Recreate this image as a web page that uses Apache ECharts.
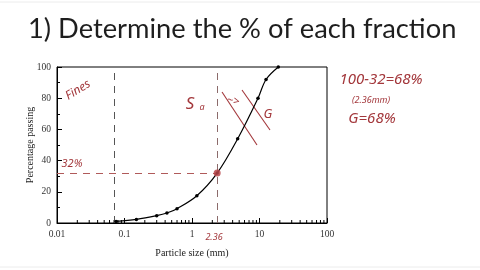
<!DOCTYPE html>
<html>
<head>
<meta charset="utf-8">
<script src="https://cdn.jsdelivr.net/npm/echarts@6/dist/echarts.min.js"></script>
<style>
  html, body { margin: 0; padding: 0; background: #fff; }
  #chart { width: 480px; height: 270px; }
</style>
</head>
<body>
<div id="chart"></div>
<script>
// Sieve analysis: particle size (mm) vs. percentage passing
const sizes   = [0.075, 0.15, 0.3, 0.425, 0.6, 1.18, 2.36, 4.75, 9.5, 12.5, 19];
const passing = [1, 2.3, 4.7, 6.4, 9.2, 17.5, 32, 54, 80, 92, 100];

const fineLimit = 0.075;     // fines / sand boundary (mm)
const sandLimit = 2.36;      // sand / gravel split used here (mm)
const passAtSand = 32;       // % passing at 2.36 mm

const xTickLabels = ['0.01', '0.1', '1', '10', '100'];
const yTicks = [0, 20, 40, 60, 80, 100];
// minor log ticks 2..9 in each decade
const minorX = [];
[0.01, 0.1, 1, 10].forEach(d => { for (let k = 2; k <= 9; k++) minorX.push(+(d * k).toPrecision(3)); });

const serif = 'Liberation Serif';
const ink = '#a3373b';
const hand = 'Noto Sans';

const chart = echarts.init(document.getElementById('chart'), null, { renderer: 'canvas' });

chart.setOption({
  backgroundColor: '#fff',
  animation: false,
  title: {
    text: '1) Determine the % of each fraction',
    left: 23, top: 11,
    textStyle: { fontFamily: 'Lato', fontWeight: 'normal', fontSize: 27.3, color: '#1e1e1e' }
  },
  grid: { left: 57, right: 153, top: 67, bottom: 47, show: true, borderColor: '#000', borderWidth: 1, backgroundColor: 'transparent' },
  xAxis: {
    type: 'log', logBase: 10, min: 0.01, max: 100,
    name: 'Particle size (mm)', nameLocation: 'middle', nameGap: 25,
    nameTextStyle: { fontFamily: serif, fontSize: 10, color: '#222' },
    axisLine: { lineStyle: { color: '#000', width: 1 } },
    axisTick: { inside: true, length: 5, lineStyle: { color: '#000' } },
    axisLabel: {
      fontFamily: serif, fontSize: 9.5, color: '#333', margin: 6,
      formatter: v => { const s = xTickLabels.find(t => Math.abs(+t - v) / v < 1e-6); return s || ''; }
    },
    splitLine: { show: false }
  },
  yAxis: {
    type: 'value', min: 0, max: 100, interval: 20,
    name: 'Percentage passing', nameLocation: 'middle', nameGap: 22, nameMoveOverlap: false,
    nameTextStyle: { fontFamily: serif, fontSize: 10, color: '#222' },
    axisLine: { show: true, lineStyle: { color: '#000', width: 1 } },
    axisTick: { show: true, inside: true, length: 5, lineStyle: { color: '#000' } },
    minorTick: { show: true, splitNumber: 2, length: 3, lineStyle: { color: '#000' } },
    axisLabel: { fontFamily: serif, fontSize: 9.5, color: '#333', margin: 6,
      formatter: v => yTicks.includes(v) ? String(v) : '' },
    splitLine: { show: false }
  },
  series: [
    {
      type: 'line',
      data: sizes.map((s, i) => [s, passing[i]]),
      smooth: 0.35,
      symbol: 'circle', symbolSize: 3.5,
      lineStyle: { color: '#000', width: 1.2 },
      itemStyle: { color: '#000' },
      z: 5,
      markLine: {
        silent: true, symbol: 'none', label: { show: false },
        data: [
          { xAxis: fineLimit, lineStyle: { color: '#555', type: [7, 6], width: 1 } },
          { xAxis: sandLimit, lineStyle: { color: '#8c6b6b', type: [7, 6], width: 1 } },
          [
            { coord: [0.01, passAtSand], lineStyle: { color: '#b05a5a', type: [7, 6], width: 1 } },
            { coord: [sandLimit, passAtSand] }
          ]
        ]
      }
    },
    {
      // highlighted reading at 2.36 mm
      type: 'scatter',
      data: [[sandLimit, passAtSand]],
      symbol: 'circle', symbolSize: 7,
      itemStyle: { color: '#b8474a', opacity: 0.85 },
      z: 6
    },
    {
      // log-spaced minor ticks along the bottom axis
      type: 'custom',
      data: minorX.map(v => [v, 0]),
      silent: true,
      renderItem: (params, api) => {
        const p = api.coord([api.value(0), 0]);
        return { type: 'line', shape: { x1: p[0], y1: p[1], x2: p[0], y2: p[1] - 3 }, style: { stroke: '#000', lineWidth: 1 } };
      },
      z: 4
    }
  ],
  graphic: [
    { type: 'line', shape: { x1: 0, y1: 2, x2: 480, y2: 2 }, style: { stroke: '#ececec', lineWidth: 1 } },
    { type: 'line', shape: { x1: 0, y1: 267, x2: 480, y2: 267 }, style: { stroke: '#ececec', lineWidth: 1 } },
    // handwritten notes
    { type: 'text', x: 78, y: 90, rotation: 0.55, style: { text: 'Fines', font: 'italic 12px ' + hand, fill: ink, align: 'center', verticalAlign: 'middle' } },
    { type: 'text', x: 72, y: 164, style: { text: '32%', font: 'italic 11px ' + hand, fill: ink, align: 'center', verticalAlign: 'middle' } },
    { type: 'text', x: 214, y: 237, style: { text: '2.36', font: 'italic 9px ' + hand, fill: ink, align: 'center', verticalAlign: 'middle' } },
    { type: 'text', x: 190, y: 104, style: { text: 'S', font: 'italic 17px ' + hand, fill: ink, align: 'center', verticalAlign: 'middle' } },
    { type: 'text', x: 202, y: 107, style: { text: 'a', font: 'italic 9px ' + hand, fill: ink, align: 'center', verticalAlign: 'middle' } },
    { type: 'text', x: 233, y: 101, rotation: -0.2, style: { text: '~>', font: 'italic 11px ' + hand, fill: ink, align: 'center', verticalAlign: 'middle' } },
    { type: 'line', shape: { x1: 222, y1: 92, x2: 257, y2: 145 }, style: { stroke: '#a3373b', lineWidth: 1.1 } },
    { type: 'line', shape: { x1: 242, y1: 90, x2: 270, y2: 130 }, style: { stroke: '#a3373b', lineWidth: 1.1 } },
    { type: 'text', x: 268, y: 114, style: { text: 'G', font: 'italic 13px ' + hand, fill: ink, align: 'center', verticalAlign: 'middle' } },
    { type: 'text', x: 381, y: 80, style: { text: '100-32=68%', font: 'italic 15px ' + hand, fill: ink, align: 'center', verticalAlign: 'middle' } },
    { type: 'text', x: 371, y: 100, style: { text: '(2.36mm)', font: 'italic 9px ' + hand, fill: ink, align: 'center', verticalAlign: 'middle' } },
    { type: 'text', x: 372, y: 119, style: { text: 'G=68%', font: 'italic 15px ' + hand, fill: ink, align: 'center', verticalAlign: 'middle' } }
  ]
});
</script>
</body>
</html>
